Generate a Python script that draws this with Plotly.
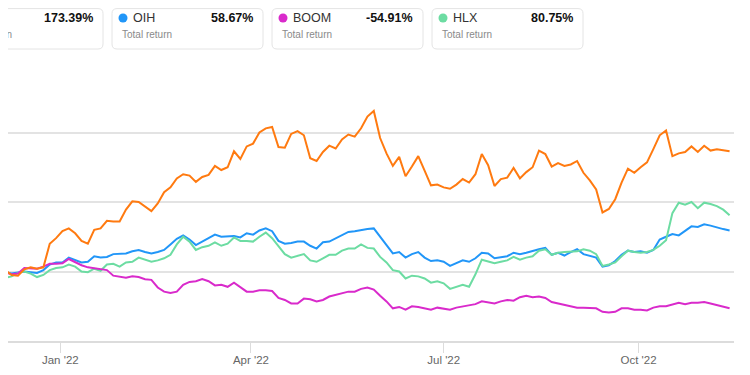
import plotly.graph_objects as go
import pandas as pd

# ---------------- data (total return, %) ----------------
dates = pd.date_range("2021-12-03", periods=116, freq="3D")

series1_vals = [13, 2, -5, -6, 3, 6, 4, 6, 40, 48,
                58, 62, 55, 44, 40, 60, 62, 73, 72, 72,
                89, 101, 100, 93, 87, 98, 114, 121, 134, 140,
                138, 129, 136, 139, 152, 146, 150, 173, 162, 180,
                184, 200, 206, 208, 179, 178, 198, 202, 196, 163,
                159, 172, 181, 177, 190, 197, 194, 206, 223, 231,
                192, 170, 152, 165, 137, 151, 166, 145, 124, 125,
                121, 119, 125, 133, 128, 140, 169, 153, 123, 133,
                135, 149, 134, 143, 150, 174, 169, 151, 156, 152,
                154, 159, 142, 131, 118, 85, 90, 104, 128, 148,
                142, 150, 157, 176, 196, 203, 166, 170, 172, 180,
                172, 181, 174, 176, 174, 173]

oih_vals = [3, -1, -3, -2, 0, -1, -2, 2, 10, 13,
            13, 20, 17, 13, 14, 22, 20, 21, 25, 26,
            26, 29, 31, 28, 26, 28, 31, 39, 47, 52,
            46, 38, 43, 47, 53, 50, 50, 51, 49, 55,
            53, 59, 62, 58, 44, 40, 41, 43, 43, 37,
            33, 42, 43, 48, 52, 57, 58, 60, 61, 62,
            50, 39, 26, 28, 20, 25, 28, 20, 15, 16,
            14, 8, 12, 16, 14, 19, 27, 26, 19, 20,
            22, 27, 25, 27, 30, 32, 34, 24, 27, 23,
            28, 32, 25, 23, 20, 7, 9, 15, 24, 30,
            28, 29, 27, 31, 46, 50, 54, 52, 59, 65,
            64, 68, 66, 63, 61, 59]

hlx_vals = [-7, -9, -7, -2, 0, -3, -8, -5, 2, 5,
            6, 10, 7, 0, -1, 4, 1, 10, 11, 7,
            13, 14, 20, 17, 14, 16, 19, 24, 39, 50,
            43, 31, 35, 37, 42, 37, 40, 49, 44, 44,
            43, 50, 56, 48, 37, 25, 20, 23, 25, 16,
            14, 19, 24, 24, 30, 33, 33, 39, 34, 33,
            21, 13, 2, 0, -10, -6, -7, -10, -16, -14,
            -17, -25, -22, -19, -22, -4, 17, 15, 12, 14,
            16, 21, 17, 20, 22, 30, 32, 24, 27, 28,
            29, 29, 32, 30, 25, 8, 10, 13, 22, 30,
            28, 27, 28, 31, 37, 45, 84, 99, 96, 100,
            91, 99, 97, 94, 89, 81]

boom_vals = [0, -1, -4, -3, 5, 5, 4, 7, 11, 11,
             12, 18, 13, 9, 6, 5, 3, 2, -6, -7,
             -9, -7, -8, -11, -12, -23, -29, -31, -29, -19,
             -15, -14, -11, -14, -20, -19, -22, -16, -22, -29,
             -29, -27, -27, -28, -38, -41, -46, -46, -39, -40,
             -43, -41, -36, -34, -31, -29, -29, -25, -23, -26,
             -35, -43, -53, -51, -55, -50, -51, -53, -55, -52,
             -53, -55, -52, -50, -49, -47, -43, -45, -46, -43,
             -41, -42, -37, -35, -37, -36, -38, -44, -46, -48,
             -50, -52, -52, -52, -53, -58, -59, -58, -53, -53,
             -55, -55, -56, -52, -50, -50, -48, -45, -47, -45,
             -45, -44, -46, -48, -50, -53]

legend_tickers = ["", "OIH", "BOOM", "HLX"]
legend_returns = ["173.39%", "58.67%", "-54.91%", "80.75%"]
legend_caption = "Total return"

x_tick_vals = ["2022-01-01", "2022-04-01", "2022-07-01", "2022-10-01"]
x_tick_text = ["Jan '22", "Apr '22", "Jul '22", "Oct '22"]
y_tick_vals = [-100, 0, 100, 200, 300]

# ---------------- styling ----------------
C_ORANGE = "#FF7A10"
C_BLUE = "#2196F8"
C_MAGENTA = "#D92ACB"
C_GREEN = "#6CDCA2"
legend_colors = [C_ORANGE, C_BLUE, C_MAGENTA, C_GREEN]

# the page body has an 8 px margin; the figure is sized to fill the rest
OFF = 8
W, H = 750 - OFF, 375 - OFF
PLOT_L, PLOT_R, PLOT_T, PLOT_B = 8, 734, 63, 341   # page pixels
ML, MR = PLOT_L - OFF, W - (PLOT_R - OFF)
MT, MB = PLOT_T - OFF, H - (PLOT_B - OFF)
PW, PH = W - ML - MR, H - MT - MB


def px_x(px):
    return (px - OFF - ML) / PW


def px_y(py):
    return (H - MB - (py - OFF)) / PH


fig = go.Figure()
for name, vals, col in [("OIH", oih_vals, C_BLUE),
                        ("HLX", hlx_vals, C_GREEN),
                        ("BOOM", boom_vals, C_MAGENTA),
                        ("Series 1", series1_vals, C_ORANGE)]:
    fig.add_trace(go.Scatter(x=dates, y=vals, mode="lines", name=name,
                             line=dict(color=col, width=2), showlegend=False))

# ---------------- legend cards ----------------
shapes = []
annotations = []
box_w, box_gap, box_right0 = 151, 9, 103
box_top, box_bot, rad = 8.6, 49, 5
for k in range(4):
    r = box_right0 + k * (box_w + box_gap)
    l = r - box_w
    x0, x1 = px_x(l), px_x(r)
    y0, y1 = px_y(box_bot), px_y(box_top)
    dx, dy = rad / PW, rad / PH
    path = (f"M {x0+dx},{y1} L {x1-dx},{y1} Q {x1},{y1} {x1},{y1-dy} "
            f"L {x1},{y0+dy} Q {x1},{y0} {x1-dx},{y0} L {x0+dx},{y0} "
            f"Q {x0},{y0} {x0},{y0+dy} L {x0},{y1-dy} Q {x0},{y1} {x0+dx},{y1} Z")
    shapes.append(dict(type="path", path=path, xref="paper", yref="paper",
                       line=dict(color="#E4E4E4", width=1), fillcolor="white",
                       layer="above"))
    cx, cy, cr = l + 11, 18, 4.5
    shapes.append(dict(type="circle", xref="paper", yref="paper",
                       x0=px_x(cx - cr), x1=px_x(cx + cr),
                       y0=px_y(cy + cr), y1=px_y(cy - cr),
                       fillcolor=legend_colors[k], line=dict(width=0),
                       layer="above"))
    if legend_tickers[k]:
        annotations.append(dict(x=px_x(l + 19), y=px_y(18), xref="paper", yref="paper",
                                text=legend_tickers[k], showarrow=False,
                                xanchor="left", yanchor="middle",
                                font=dict(family="Liberation Sans, Arial", size=12.5,
                                          color="#333333")))
    annotations.append(dict(x=px_x(r - 8), y=px_y(18), xref="paper", yref="paper",
                            text=f"<b>{legend_returns[k]}</b>", showarrow=False,
                            xanchor="right", yanchor="middle",
                            font=dict(family="Liberation Sans, Arial", size=12.5,
                                      color="#111111")))
    annotations.append(dict(x=px_x(l + 8), y=px_y(35), xref="paper", yref="paper",
                            text=legend_caption, showarrow=False,
                            xanchor="left", yanchor="middle",
                            font=dict(family="Liberation Sans, Arial", size=10,
                                      color="#8A8A8A")))

fig.update_layout(
    width=W, height=H,
    margin=dict(l=ML, r=MR, t=MT, b=MB, pad=0),
    paper_bgcolor="white", plot_bgcolor="white",
    shapes=shapes, annotations=annotations,
    xaxis=dict(range=["2021-12-07 07:00", "2022-11-15 02:00"],
               tickvals=x_tick_vals, ticktext=x_tick_text,
               showgrid=False, zeroline=False,
               showline=True, linecolor="#DCDCDC", linewidth=2,
               ticks="outside", ticklen=10, tickcolor="#DCDCDC", tickwidth=1,
               ticklabelstandoff=-3,
               tickfont=dict(family="Liberation Sans, Arial", size=11.5,
                             color="#666666")),
    yaxis=dict(range=[-100, 300], tickvals=y_tick_vals, showticklabels=False,
               showgrid=True, gridcolor="#E3E3E3", gridwidth=1.5,
               zeroline=False, showline=False),
)

fig.write_html("out.html")
